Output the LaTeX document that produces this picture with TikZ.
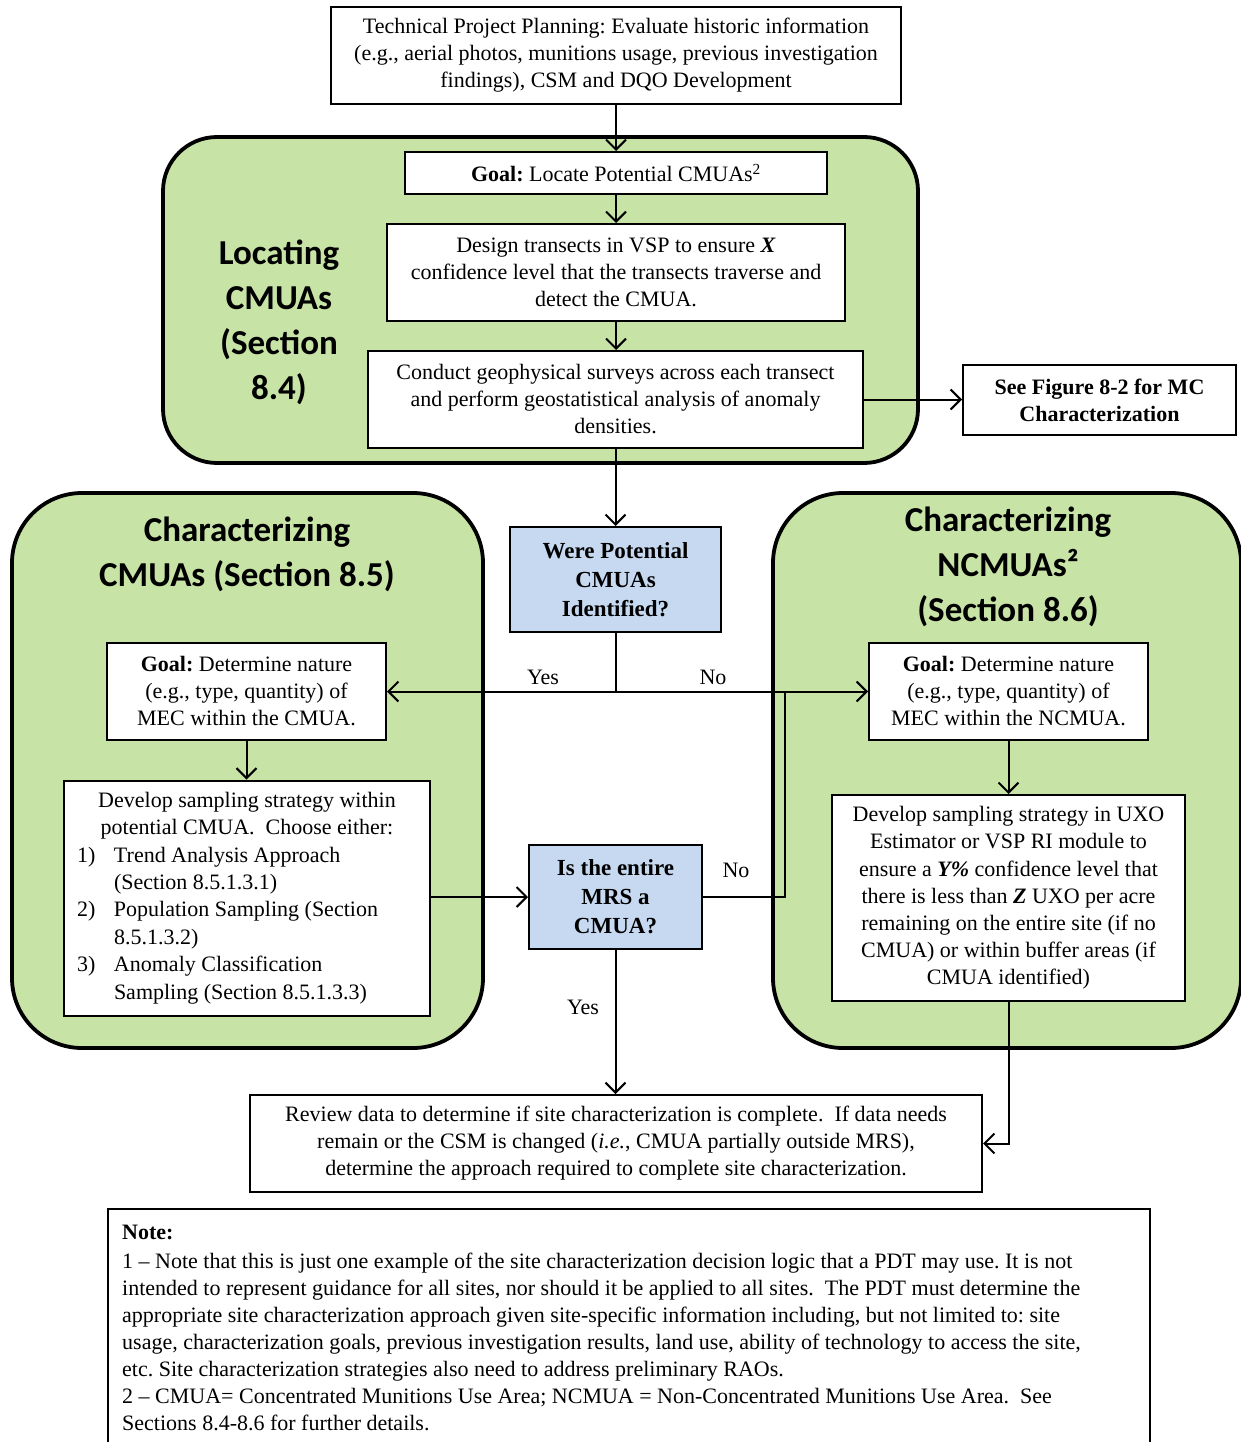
\documentclass[tikz,border=0pt]{standalone}
\usepackage{fontspec}
\setmainfont{Liberation Serif}
\newfontfamily\headfont{Carlito}
\usetikzlibrary{arrows.meta}
\definecolor{panelgreen}{HTML}{C7E3A6}
\definecolor{qblue}{HTML}{C6D9F0}
\frenchspacing
\begin{document}
\begin{tikzpicture}[x=1pt,y=-1pt,
  panel/.style={draw, line width=3.8pt, fill=panelgreen},
  box/.style={draw, line width=2pt, fill=white, align=center, inner sep=0pt,
    font=\fontsize{22}{27}\selectfont},
  qbox/.style={box, fill=qblue, font=\fontsize{23}{29}\selectfont\bfseries},
  head/.style={align=center, inner sep=0pt, font=\fontsize{35}{45}\selectfont\headfont\bfseries},
  lbl/.style={inner sep=0pt, font=\fontsize{22}{27}\selectfont},
  arr/.style={line width=2pt, -{Straight Barb[length=10pt,width=20pt,line width=2pt]}},
  conn/.style={line width=2pt}
]
\useasboundingbox (0,0) rectangle (1241,1442);

% panels
\draw[panel, rounded corners=54pt] (163,137) rectangle (918,463);
\draw[panel, rounded corners=70pt] (12,493) rectangle (483,1048);
\draw[panel, rounded corners=70pt] (773,493) rectangle (1241,1048);

% headings
\node[head] (hloc) at (279,322) {Locating\\CMUAs\\(Section\\8.4)};
\node[head] (hcl) at (247,554) {Characterizing\\CMUAs (Section 8.5)};
\node[head] (hcr) at (1008,567) {Characterizing\\NCMUAs²\\(Section 8.6)};

% boxes
\node[box, minimum width=570pt, minimum height=97pt] (top) at (616,55.5)
  {Technical Project Planning: Evaluate historic information\\(e.g., aerial photos, munitions usage, previous investigation\\findings), CSM and DQO Development};
\node[box, minimum width=422pt, minimum height=42pt] (goal1) at (616,173)
  {\textbf{Goal:} Locate Potential CMUAs\textsuperscript{2}};
\node[box, minimum width=458pt, minimum height=97pt] (design) at (616,272.5)
  {Design transects in VSP to ensure \textbf{\textit{X}}\\confidence level that the transects traverse and\\detect the CMUA.};
\node[box, minimum width=495pt, minimum height=97pt] (conduct) at (615.5,399.5)
  {Conduct geophysical surveys across each transect\\and perform geostatistical analysis of anomaly\\densities.};
\node[box, minimum width=273pt, minimum height=70pt, font=\fontsize{22}{27}\selectfont\bfseries] (seefig) at (1099.5,400)
  {See Figure 8-2 for MC\\Characterization};
\node[qbox, minimum width=211pt, minimum height=105pt] (were) at (615.5,579.5)
  {Were Potential\\CMUAs\\Identified?};
\node[box, minimum width=279pt, minimum height=97pt] (goalL) at (246.5,691.5)
  {\textbf{Goal:} Determine nature\\(e.g., type, quantity) of\\MEC within the CMUA.};
\node[box, minimum width=279pt, minimum height=97pt] (goalR) at (1008.5,691.5)
  {\textbf{Goal:} Determine nature\\(e.g., type, quantity) of\\MEC within the NCMUA.};
\node[box, minimum width=366pt, minimum height=235pt] (devL) at (247,898)
  {\begin{minipage}{340pt}\fontsize{22}{27.4}\selectfont\centering
   Develop sampling strategy within\\potential CMUA.\ \ Choose either:\par
   \raggedright
   \makebox[37pt][l]{1)}Trend Analysis Approach\\
   \hspace*{37pt}(Section 8.5.1.3.1)\\
   \makebox[37pt][l]{2)}Population Sampling (Section\\
   \hspace*{37pt}8.5.1.3.2)\\
   \makebox[37pt][l]{3)}Anomaly Classification\\
   \hspace*{37pt}Sampling (Section 8.5.1.3.3)\par
   \end{minipage}};
\node[box, minimum width=353pt, minimum height=206pt, font=\fontsize{22}{27.2}\selectfont] (devR) at (1008.5,898)
  {Develop sampling strategy in UXO\\Estimator or VSP RI module to\\ensure a \textbf{\textit{Y\%}} confidence level that\\there is less than \textbf{\textit{Z}} UXO per acre\\remaining on the entire site (if no\\CMUA) or within buffer areas (if\\CMUA identified)};
\node[qbox, minimum width=173pt, minimum height=104pt] (isent) at (615.5,897)
  {Is the entire\\MRS a\\CMUA?};
\node[box, minimum width=732pt, minimum height=97pt] (review) at (616,1143.5)
  {Review data to determine if site characterization is complete.\ \ If data needs\\remain or the CSM is changed (\textit{i.e.}, CMUA partially outside MRS),\\determine the approach required to complete site characterization.};
\node[box, anchor=north west, minimum width=1042pt, minimum height=260pt] (note) at (107,1208) {};
\node[anchor=north west, inner sep=0pt, align=left, font=\fontsize{22}{27}\selectfont] (notetext) at (122,1225)
  {\textbf{Note:}\\[2pt]
   1 -- Note that this is just one example of the site characterization decision logic that a PDT may use. It is not\\
   intended to represent guidance for all sites, nor should it be applied to all sites.\ \ The PDT must determine the\\
   appropriate site characterization approach given site-specific information including, but not limited to: site\\
   usage, characterization goals, previous investigation results, land use, ability of technology to access the site,\\
   etc. Site characterization strategies also need to address preliminary RAOs.\\
   2 -- CMUA= Concentrated Munitions Use Area; NCMUA = Non-Concentrated Munitions Use Area.\ \ See\\
   Sections 8.4-8.6 for further details.};

% connectors
\draw[arr] (top.south) -- (goal1.north);
\draw[arr] (goal1.south) -- (design.north);
\draw[arr] (design.south) -- (design.south |- conduct.north);
\draw[arr] (conduct.east) -- (conduct.east -| seefig.west);
\draw[arr] (conduct.south) -- (conduct.south |- were.north);
\coordinate (j1) at (were.south |- goalL.east);
\coordinate (j2) at (785,691.5);
\draw[arr] (were.south) -- (j1) -- (goalL.east);
\draw[arr] (j1) -- (goalR.west);
\node[lbl] (yes1) at (543,677) {Yes};
\node[lbl] (no1) at (713,677) {No};
\draw[arr] (goalL.south) -- (goalL.south |- devL.north);
\draw[arr] (goalR.south) -- (goalR.south |- devR.north);
\draw[arr] (devL.east |- isent.west) -- (isent.west);
\draw[conn] (isent.east) -- (isent.east -| j2) -- (j2);
\node[lbl] (no2) at (736,870) {No};
\draw[arr] (isent.south) -- (isent.south |- review.north);
\node[lbl] (yes2) at (583,1007) {Yes};
\draw[arr] (devR.south) -- (devR.south |- review.east) -- (review.east);
\end{tikzpicture}
\end{document}
